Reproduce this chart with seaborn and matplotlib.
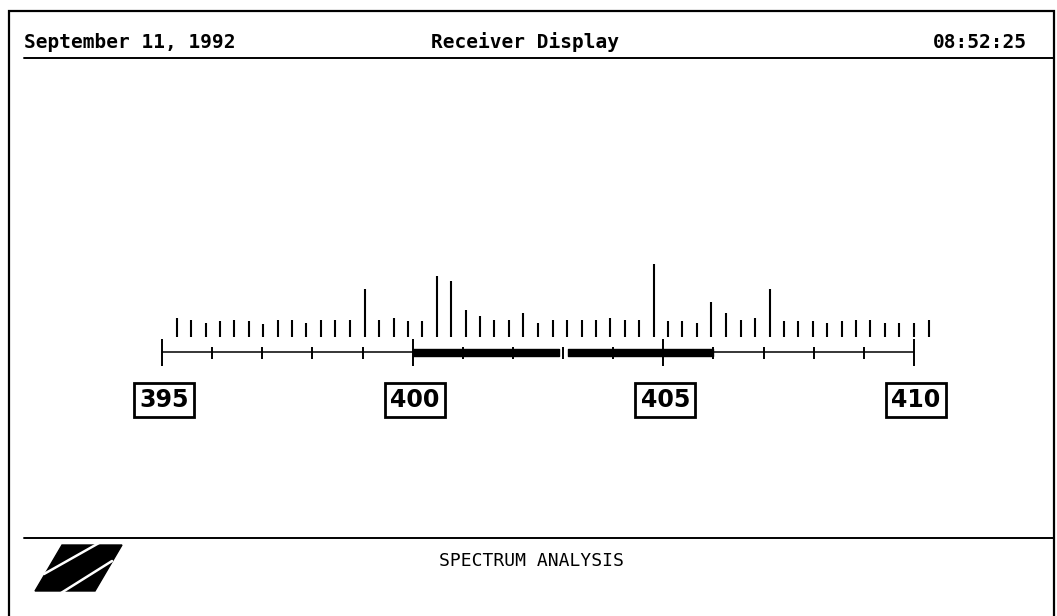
"""
Receiver display: spectrum analysis screen (395-410 MHz).
"""
import numpy as np
import matplotlib
matplotlib.use("Agg")
import matplotlib.pyplot as plt
from matplotlib.patches import Polygon, Rectangle
from matplotlib.lines import Line2D
import seaborn as sns

# ---- data -------------------------------------------------------------
channel_freqs = [
    395.29, 395.58, 395.87, 396.15, 396.44, 396.73, 397.02, 397.31, 397.60,
    397.88, 398.17, 398.46, 398.75, 399.04, 399.33, 399.62, 399.90, 400.19,
    400.48, 400.77, 401.06, 401.35, 401.63, 401.92, 402.21, 402.50, 402.79,
    403.08, 403.37, 403.65, 403.94, 404.23, 404.52, 404.81, 405.10, 405.38,
    405.67, 405.96, 406.25, 406.54, 406.83, 407.12, 407.40, 407.69, 407.98,
    408.27, 408.56, 408.85, 409.13, 409.42, 409.71, 410.00, 410.29,
]
channel_levels = [
    19, 17, 14, 16, 17, 16, 13, 17, 17, 14, 17, 17, 17, 48, 17, 19, 16, 16,
    61, 56, 27, 21, 17, 17, 24, 14, 17, 17, 17, 17, 19, 17, 17, 73, 16, 16,
    14, 35, 24, 17, 19, 48, 16, 16, 16, 14, 16, 17, 17, 14, 14, 14, 17,
]
major_ticks = [395, 400, 405, 410]
minor_ticks = [396, 397, 398, 399, 401, 402, 403, 404, 406, 407, 408, 409]
band_segments = [(400.0, 402.92), (403.1, 406.0)]

date_text = "September 11, 1992"
title_text = "Receiver Display"
time_text = "08:52:25"
footer_text = "SPECTRUM ANALYSIS"

# ---- figure -----------------------------------------------------------
W, H = 1057, 616
sns.set_theme(style="white")
plt.rcParams["font.family"] = ["DejaVu Sans Mono", "DejaVu Sans"]
plt.rcParams["text.color"] = "black"

fig = plt.figure(figsize=(W / 100, H / 100), dpi=100)
fig.patch.set_facecolor("white")


def fx(px):
    return px / W


def fy(py):
    return 1 - py / H


# spectrum axes: 395 -> px 162, 410 -> px 914, baseline at px 337
x0_px, x1_px = 162, 914
top_px, bot_px, base_px = 250, 420, 337
ax = fig.add_axes([fx(x0_px), fy(bot_px), (x1_px - x0_px) / W, (bot_px - top_px) / H])
ax.set_xlim(395, 410)
ax.set_ylim(-(bot_px - base_px), base_px - top_px)
ax.axis("off")

# channel levels
ax.vlines(channel_freqs, 0, channel_levels, color="black", lw=1.5, clip_on=False)

# frequency axis
axis_y = -15
ax.hlines(axis_y, 395, 400, color="black", lw=1.1, clip_on=False)
ax.hlines(axis_y, 406, 410, color="black", lw=1.1, clip_on=False)
ax.broken_barh([(a, b - a) for a, b in band_segments], (-19, 7.3), color="black")
ax.vlines(major_ticks, -29, -2, color="black", lw=1.4, clip_on=False)
ax.vlines(minor_ticks, -22, -9.7, color="black", lw=1.4, clip_on=False)

for f in major_ticks:
    ax.text(f + 0.04, -63, str(f), ha="center", va="center",
            fontsize=17, fontweight="bold", family="DejaVu Sans", color="black",
            bbox=dict(boxstyle="square,pad=0.22", fc="white", ec="black", lw=2.0),
            clip_on=False)

# ---- screen frame, header and footer ----------------------------------
fig.add_artist(Rectangle((fx(9), fy(H + 5)), fx(1054 - 9), (H + 5 - 11) / H,
                         transform=fig.transFigure, fill=False,
                         ec="black", lw=1.6))
fig.add_artist(Line2D([fx(24), fx(1054)], [fy(58), fy(58)],
                      transform=fig.transFigure, color="black", lw=1.4))
fig.add_artist(Line2D([fx(24), fx(1054)], [fy(538), fy(538)],
                      transform=fig.transFigure, color="black", lw=1.4))

fig.text(fx(24), fy(48), date_text, ha="left", va="baseline",
         fontsize=14, fontweight="bold", color="black")
fig.text(fx(525), fy(48), title_text, ha="center", va="baseline",
         fontsize=14, fontweight="bold", color="black")
fig.text(fx(1027), fy(48), time_text, ha="right", va="baseline",
         fontsize=14, fontweight="bold", color="black")
fig.text(fx(531), fy(561), footer_text, ha="center", va="center",
         fontsize=13, color="black")

# logo
logo = [(62, 545), (122, 545), (95, 591), (35, 591)]
fig.add_artist(Polygon([(fx(x), fy(y)) for x, y in logo], closed=True,
                       transform=fig.transFigure, fc="black", ec="black"))
for (xa, ya), (xb, yb) in [((44, 574), (99, 543)), ((61, 593), (112, 561))]:
    fig.add_artist(Line2D([fx(xa), fx(xb)], [fy(ya), fy(yb)],
                          transform=fig.transFigure, color="white", lw=1.8))

fig.savefig("out.png", dpi=100)
plt.close(fig)
